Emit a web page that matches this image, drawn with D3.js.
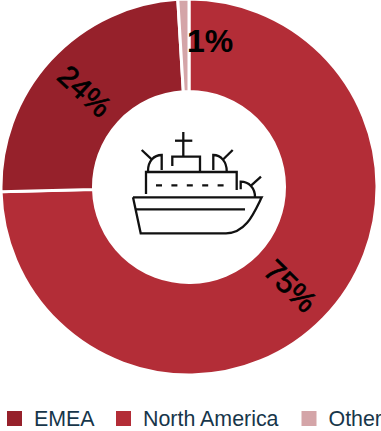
<!DOCTYPE html>
<html lang="en">
<head>
  <meta charset="UTF-8">
  <title>Share by region</title>
  <style>
    body { margin: 0; background: #fff; overflow: hidden; }
    svg { display: block; }
    text { font-family: "Liberation Sans", Arial, sans-serif; }
    .label { font-size: 30px; fill: #000; stroke: #000; stroke-width: 0.7; text-anchor: middle; dominant-baseline: central; }
    .label.side { font-size: 32px; font-weight: bold; stroke: none; }
    .legend text { font-size: 21.4px; fill: #17364a; }
    .ship path { fill: none; stroke: #111; stroke-width: 2.3; }
  </style>
</head>
<body>
  <svg id="chart" width="381" height="431"></svg>

  <script src="https://d3js.org/d3.v7.min.js"></script>
  <script>
    const categories = ["North America", "EMEA", "Other"];
    const values = [74.6, 24.45, 0.95];
    const colors = ["#b32d37", "#96212b", "#d4a5a8"];
    const legendOrder = ["EMEA", "North America", "Other"];
    const legendX = [7, 116, 301.5];

    const cx = 189, cy = 187, outer = 188, inner = 95.5;
    const svg = d3.select("#chart");
    const color = d3.scaleOrdinal(categories, colors);
    const total = d3.sum(values);

    const pie = d3.pie().sort(null);
    const arc = d3.arc().innerRadius(inner).outerRadius(outer);
    const arcs = pie(values);

    const g = svg.append("g").attr("transform", `translate(${cx},${cy})`);

    g.selectAll("path")
      .data(arcs)
      .enter()
      .append("path")
      .attr("d", arc)
      .attr("fill", (d, i) => colors[i])
      .attr("stroke", "#fff")
      .attr("stroke-width", 3);

    // labels follow the ring, except the tiny slice which sits to the side
    g.selectAll("text")
      .data(arcs)
      .enter()
      .append("text")
      .attr("class", (d, i) => categories[i] === "Other" ? "label side" : "label")
      .text(d => d3.format(".0%")(d.value / total))
      .attr("transform", (d, i) => {
        if (categories[i] === "Other") return "translate(21,-146)";
        const [x, y] = arc.centroid(d);
        const mid = (d.startAngle + d.endAngle) / 2 * 180 / Math.PI;
        const rot = mid > 180 ? mid - 270 : mid - 90;
        return `translate(${x},${y}) rotate(${rot})`;
      });

    // ship icon in the hole
    const ship = svg.append("g").attr("class", "ship");
    const shipPaths = [
      "M133,197.3H261.7C254,213 246,233.3 226,233.3H140.7L133,197.3",
      "M136,209.3H245",
      "M146,194V172H236.7V190",
      "M172.3,166V156.7H200V172",
      "M183.3,132V156.7",
      "M175,140.7H192.3",
      "M148,171C148,161 154,155 161.7,155V170",
      "M141.7,150L151.7,159.3",
      "M213.3,170V155C221,155 226.7,162 226.7,171",
      "M232.7,150L223.3,159.3",
      "M240.7,189.3V181.7C249,181.7 255,188 255,197",
      "M261,176.7L251,185.7"
    ];
    ship.selectAll("path")
      .data(shipPaths)
      .enter()
      .append("path")
      .attr("d", d => d);
    ship.append("path")
      .attr("d", "M156,185.3H227.3")
      .attr("stroke-dasharray", "6,9.4");

    // legend
    const legend = svg.append("g").attr("class", "legend");
    const item = legend.selectAll("g")
      .data(legendOrder)
      .enter()
      .append("g")
      .attr("transform", (d, i) => `translate(${legendX[i]},411)`);
    item.append("rect")
      .attr("width", 15)
      .attr("height", 15)
      .attr("fill", d => color(d));
    item.append("text")
      .attr("x", 27)
      .attr("y", 15)
      .text(d => d);
  </script>
</body>
</html>
